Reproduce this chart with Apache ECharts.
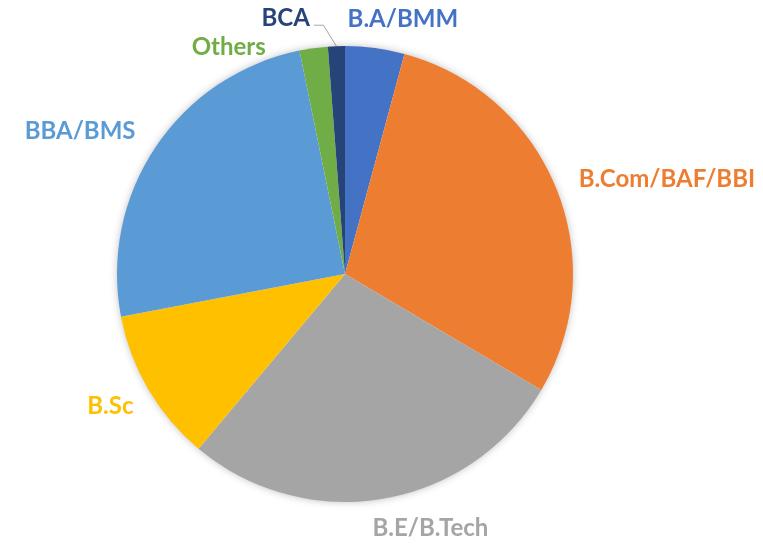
<!DOCTYPE html>
<html>
<head>
<meta charset="utf-8">
<script src="https://cdn.jsdelivr.net/npm/echarts@6/dist/echarts.min.js"></script>
<style>
  html, body { margin: 0; padding: 0; background: #fff; }
  #chart { width: 763px; height: 545px; }
</style>
</head>
<body>
<div id="chart"></div>
<script>
var categories = ['B.A/BMM', 'B.Com/BAF/BBI', 'B.E/B.Tech', 'B.Sc', 'BBA/BMS', 'Others', 'BCA']
var values = [4.2, 29.3, 27.6, 10.9, 24.8, 2.0, 1.2]
var colors = ['#4472C4', '#ED7D31', '#A5A5A5', '#FFC000', '#5B9BD5', '#70AD47', '#264478']

// pie geometry (px)
var cx = 345, cy = 274, radius = 228
// default gap between pie edge and label, and where a label sits off its slice middle: [angle, gap]
var labelGap = 24
var labelMoved = {
  'B.A/BMM': [11, 20],
  'B.Com/BAF/BBI': [69.3, 28],
  'B.E/B.Tech': [164, 24],
  'B.Sc': [null, 21],
  'BBA/BMS': [302, 29],
  'Others': [335, 10],
  'BCA': [347.5, 22]
}

var total = values.reduce(function (a, b) { return a + b }, 0)
var midAngles = []
var acc = 0
values.forEach(function (v) {
  midAngles.push((acc + v / 2) / total * 360)
  acc += v
})

function polar (deg, dist) {
  var a = deg * Math.PI / 180
  return [cx + dist * Math.sin(a), cy - dist * Math.cos(a)]
}

var chart = echarts.init(document.getElementById('chart'))

var option = {
  backgroundColor: '#fff',
  animation: false,
  series: [{
    // soft shadow under the whole pie
    type: 'pie',
    silent: true,
    center: [cx, cy],
    radius: radius - 1,
    label: { show: false },
    labelLine: { show: false },
    data: [{ value: 1, itemStyle: { color: '#fff', shadowBlur: 8, shadowColor: 'rgba(0,0,0,0.3)' } }]
  }, {
    type: 'pie',
    center: [cx, cy],
    radius: radius,
    startAngle: 90,
    clockwise: true,
    avoidLabelOverlap: false,
    label: {
      show: true,
      position: 'outside',
      fontFamily: 'Lato',
      fontWeight: 'bold',
      fontSize: 24
    },
    labelLine: {
      show: false,
      lineStyle: { color: '#A6A6A6', width: 1 }
    },
    emphasis: { disabled: true },
    data: categories.map(function (name, i) {
      return {
        name: name,
        value: values[i],
        itemStyle: { color: colors[i] },
        label: { color: colors[i] },
        labelLine: { show: name === 'BCA' }
      }
    }),
    labelLayout: function (params) {
      var i = params.dataIndex
      var name = categories[i]
      var moved = labelMoved[name] || [null, labelGap]
      var ang = moved[0] == null ? midAngles[i] : moved[0]
      var gap = moved[1]
      var a = ang * Math.PI / 180
      var ux = Math.sin(a), uy = -Math.cos(a)
      var w = params.labelRect.width, h = 24
      var p = polar(ang, radius + gap)
      var x = p[0] + ux * w / 2
      var y = p[1] + uy * h / 2
      var out = { x: x, y: y, align: 'center', verticalAlign: 'middle' }
      if (name === 'BCA') {
        var s = polar(midAngles[i], radius)
        var ly = y + 7
        out.labelLinePoints = [s, [s[0] - 13, ly], [x + w / 2 + 4, ly]]
      }
      return out
    }
  }]
}

chart.setOption(option)
</script>
</body>
</html>
